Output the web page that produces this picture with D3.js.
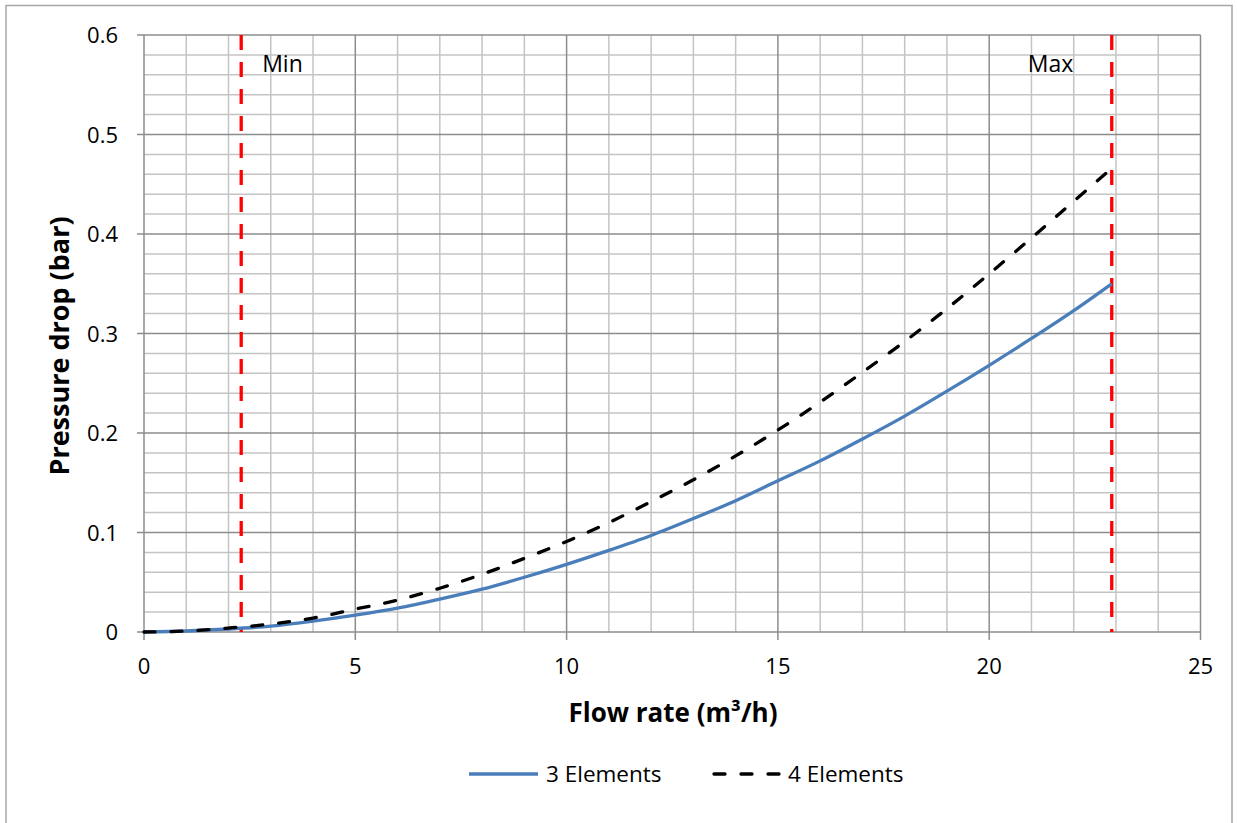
<!DOCTYPE html>
<html><head><meta charset="utf-8">
<script src="https://cdn.jsdelivr.net/npm/d3@7"></script>
<style>body{margin:0;background:#fff}svg{display:block}</style>
</head><body><svg id="c" width="1237" height="823"></svg>
<script>
const flow = [0,1,2,3,4,5,6,7,8,9,10,11,12,13,14,15,16,17,18,19,20,21,22,22.9];
const elements3 = [0,0.001,0.003,0.006,0.011,0.017,0.024,0.033,0.043,0.055,0.068,0.082,0.097,0.114,0.132,0.152,0.172,0.194,0.217,0.242,0.268,0.295,0.323,0.350];
const elements4 = [0,0.001,0.004,0.008,0.014,0.023,0.032,0.044,0.058,0.074,0.091,0.110,0.131,0.153,0.177,0.203,0.231,0.261,0.292,0.325,0.360,0.396,0.433,0.466];
const xTicks = [0,5,10,15,20,25];
const yTicks = [0,0.1,0.2,0.3,0.4,0.5,0.6];
const limits = [{label:"Min", value:2.3},{label:"Max", value:22.9}];
const seriesNames = ["3 Elements","4 Elements"];

const svg = d3.select("#c");
const font = "'Open Sans', sans-serif";
svg.append("rect").attr("x",6).attr("y",5.5).attr("width",1226).attr("height",830)
  .attr("fill","#fff").attr("stroke","#a6a6a6").attr("stroke-width",1.5);

const L=144,R=1200.5,T=35,B=632;
const x=d3.scaleLinear().domain([0,25]).range([L,R]);
const y=d3.scaleLinear().domain([0,0.6]).range([B,T]);

const g=svg.append("g");
const xMinor=d3.range(0,26,1).filter(v=>v%5!==0);
const yMinor=d3.range(0,31,1).filter(v=>v%5!==0).map(v=>v*0.02);
g.selectAll(".xm").data(xMinor).join("line").attr("x1",d=>x(d)).attr("x2",d=>x(d)).attr("y1",T).attr("y2",B)
  .attr("stroke","#c4c4c4").attr("stroke-width",1.5);
g.selectAll(".ym").data(yMinor).join("line").attr("y1",d=>y(d)).attr("y2",d=>y(d)).attr("x1",L).attr("x2",R)
  .attr("stroke","#c4c4c4").attr("stroke-width",1.5);
g.selectAll(".xM").data(xTicks).join("line").attr("x1",d=>x(d)).attr("x2",d=>x(d)).attr("y1",T).attr("y2",B+8)
  .attr("stroke","#8c8c8c").attr("stroke-width",1.5);
g.selectAll(".yM").data(yTicks).join("line").attr("y1",d=>y(d)).attr("y2",d=>y(d)).attr("x1",L-7).attr("x2",R)
  .attr("stroke","#8c8c8c").attr("stroke-width",1.5);

svg.append("g").selectAll("text").data(xTicks).join("text").attr("x",d=>x(d)).attr("y",674)
  .attr("text-anchor","middle").attr("font-family",font).attr("font-size",22).attr("fill","#000").text(d=>d);
svg.append("g").selectAll("text").data(yTicks).join("text").attr("x",118).attr("y",d=>y(d)+8)
  .attr("text-anchor","end").attr("font-family",font).attr("font-size",22).attr("fill","#000").text(d=>d);

svg.append("text").attr("x",673).attr("y",722).attr("text-anchor","middle").attr("font-family",font)
  .attr("font-size",26).attr("font-weight","bold").text("Flow rate (m³/h)");
svg.append("text").attr("transform","translate(69,346) rotate(-90)").attr("text-anchor","middle").attr("font-family",font)
  .attr("font-size",27).attr("font-weight","bold").text("Pressure drop (bar)");

svg.append("g").selectAll("line").data(limits).join("line").attr("x1",d=>x(d.value)).attr("x2",d=>x(d.value))
  .attr("y1",T).attr("y2",B).attr("stroke","#ff0000").attr("stroke-width",3.3).attr("stroke-dasharray","15,12");
svg.append("g").selectAll("text").data(limits).join("text")
  .attr("x",d=>d.label==="Min"? x(d.value)+21 : x(d.value)-84).attr("y",72)
  .attr("font-family",font).attr("font-size",23).attr("fill","#000").text(d=>d.label);

const line=d3.line().x(d=>x(d[0])).y(d=>y(d[1])).curve(d3.curveMonotoneX);
svg.append("path").datum(flow.map((f,i)=>[f,elements3[i]])).attr("d",line).attr("fill","none")
  .attr("stroke","#4a7ebb").attr("stroke-width",3.3);
svg.append("path").datum(flow.map((f,i)=>[f,elements4[i]])).attr("d",line).attr("fill","none")
  .attr("stroke","#000").attr("stroke-width",3.3).attr("stroke-linecap","round").attr("stroke-dasharray","11,16");

const lg=svg.append("g");
lg.append("line").attr("x1",469).attr("x2",538).attr("y1",774).attr("y2",774).attr("stroke","#4a7ebb").attr("stroke-width",3.3);
lg.append("text").attr("x",546).attr("y",782).attr("font-family",font).attr("font-size",22.5).text(seriesNames[0]);
lg.append("line").attr("x1",714).attr("x2",779).attr("y1",774).attr("y2",774).attr("stroke","#000").attr("stroke-width",3.3)
  .attr("stroke-linecap","round").attr("stroke-dasharray","11,16");
lg.append("text").attr("x",788).attr("y",782).attr("font-family",font).attr("font-size",22.5).text(seriesNames[1]);
</script></body></html>
